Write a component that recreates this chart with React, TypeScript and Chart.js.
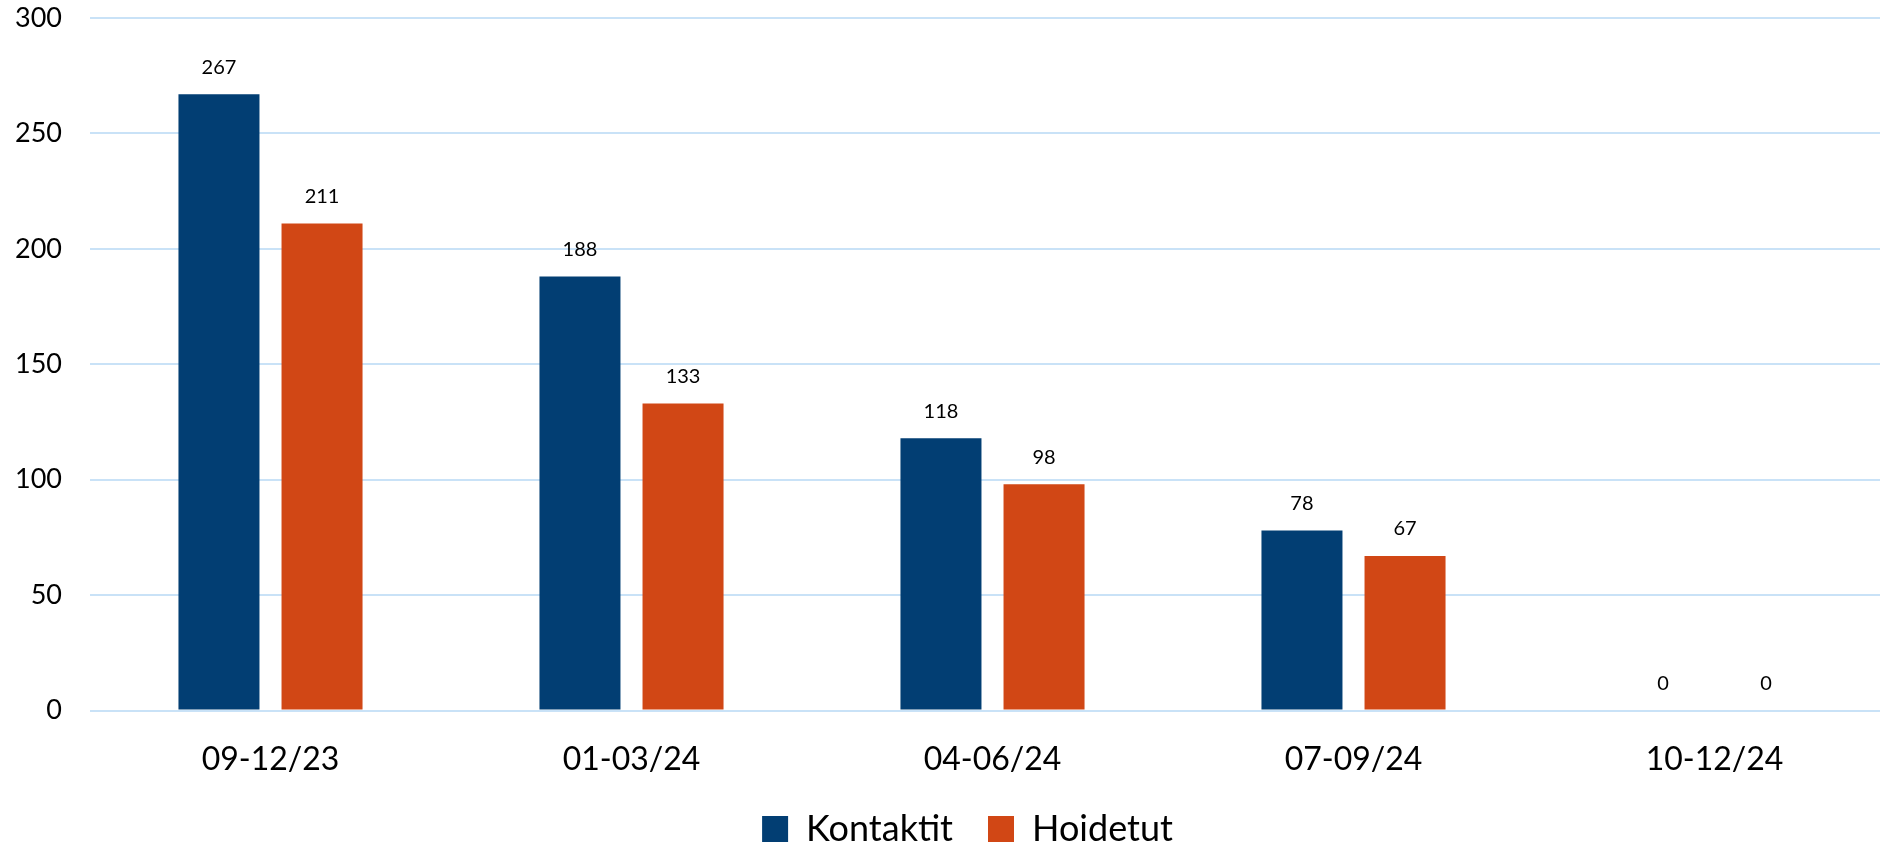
import React, { useEffect, useRef } from "react";
import { Chart, registerables } from "chart.js";

Chart.register(...registerables);

const categories = ["09-12/23", "01-03/24", "04-06/24", "07-09/24", "10-12/24"];
const kontaktit = [267, 188, 118, 78, 0];
const hoidetut = [211, 133, 98, 67, 0];
const seriesNames = ["Kontaktit", "Hoidetut"];

const FONT = "Lato, 'Open Sans', sans-serif";

const valueLabels = {
  id: "valueLabels",
  afterDatasetsDraw(chart: any) {
    const ctx = chart.ctx;
    ctx.save();
    ctx.font = `20px ${FONT}`;
    ctx.fillStyle = "#000";
    ctx.textAlign = "center";
    ctx.textBaseline = "middle";
    chart.data.datasets.forEach((ds: any, i: number) => {
      const meta = chart.getDatasetMeta(i);
      meta.data.forEach((el: any, j: number) => {
        ctx.fillText(String(ds.data[j]), el.x, el.y - 27);
      });
    });
    ctx.restore();
  },
};

const legendShift = {
  id: "legendShift",
  afterLayout(chart: any) {
    if (chart.legend) {
      chart.legend.left += 20;
      chart.legend.right += 20;
    }
  },
};

export default function App() {
  const ref = useRef<HTMLCanvasElement>(null);
  useEffect(() => {
    if (!ref.current) return;
    const chart = new Chart(ref.current, {
      type: "bar",
      data: {
        labels: categories,
        datasets: [
          { label: seriesNames[0], data: kontaktit, backgroundColor: "#023e73" },
          { label: seriesNames[1], data: hoidetut, backgroundColor: "#d14715" },
        ],
      },
      plugins: [valueLabels, legendShift],
      options: {
        responsive: false,
        animation: false,
        devicePixelRatio: 1,
        layout: { padding: { top: 18, left: 0, right: 0, bottom: -8 } },
        datasets: {
          bar: { categoryPercentage: 0.571, barPercentage: 0.786 },
        },
        plugins: {
          legend: {
            position: "bottom",
            labels: {
              font: { family: FONT, size: 36 },
              color: "#000",
              boxWidth: 26,
              boxHeight: 26,
              padding: 35,
            },
          },
          tooltip: { enabled: false },
        },
        scales: {
          x: {
            grid: { display: false },
            border: { display: false },
            ticks: { font: { family: FONT, size: 32 }, color: "#000", padding: 22 },
            afterFit(scale: any) {
              scale.height = scale.height - 25;
            },
          },
          y: {
            min: 0,
            max: 300,
            ticks: { stepSize: 50, font: { family: FONT, size: 27 }, color: "#000", padding: 0 },
            grid: {
              color: "#c9e2f7",
              lineWidth: 2,
              drawTicks: true,
              tickLength: 28,
              tickColor: "rgba(0,0,0,0)",
            },
            border: { display: false },
            afterFit(scale: any) {
              scale.width = 90;
            },
          },
        },
      },
    });
    return () => chart.destroy();
  }, []);
  return (
    <div style={{ position: "fixed", left: 0, top: 0, width: 1880, height: 849, overflow: "hidden", background: "#fff" }}>
      <canvas ref={ref} width={1895} height={849} style={{ width: 1895, height: 849, display: "block" }} />
    </div>
  );
}
